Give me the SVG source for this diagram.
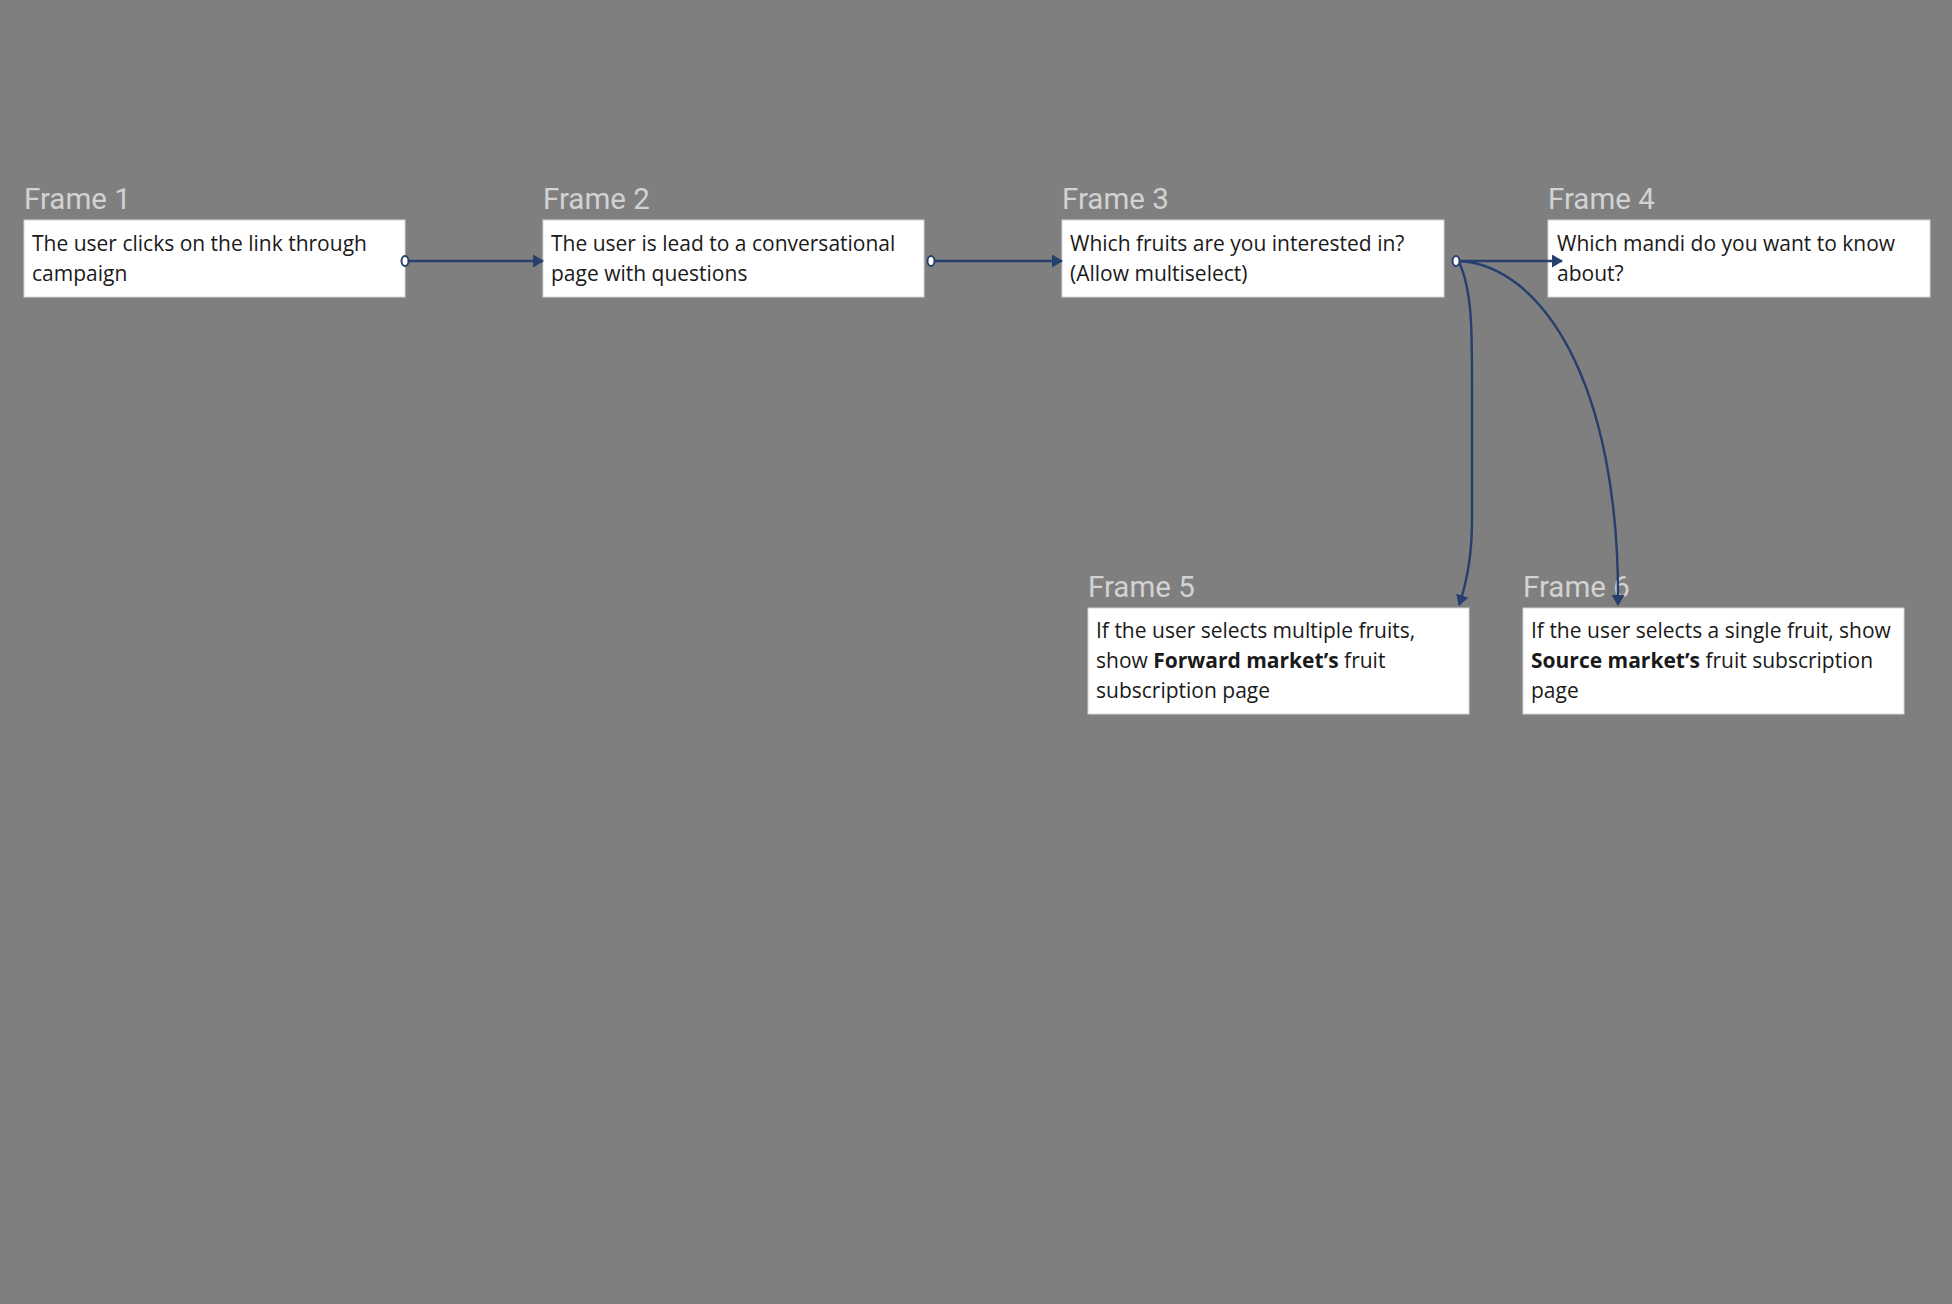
<svg xmlns="http://www.w3.org/2000/svg" width="1952" height="1304" viewBox="0 0 1952 1304">
<style>
.bg{fill:#7f7f7f}
.box{fill:#ffffff;stroke:#d6d6d6;stroke-width:1}
.lbl{font-family:Roboto,"Liberation Sans",sans-serif;font-size:29.5px;fill:#d2d2d2}
.txt{font-family:"Open Sans",Lato,"Liberation Sans",sans-serif;font-size:21px;fill:#1a1a1a}
.b{font-weight:bold}
.con{fill:none;stroke:#263f6e;stroke-width:2.4}
.dot{fill:#ffffff;stroke:#263f6e;stroke-width:2}
</style>
<defs>
<marker id="arr" viewBox="0 0 11 13" refX="10" refY="6.5" markerWidth="11" markerHeight="13" markerUnits="userSpaceOnUse" orient="auto">
<path d="M0,0 L11,6.5 L0,13 Z" fill="#263f6e"/>
</marker>
</defs>
<rect class="bg" x="0" y="0" width="1952" height="1304"/>

<g id="frame1">
<text class="lbl" x="24" y="209">Frame 1</text>
<rect class="box" x="24" y="220" width="381" height="77"/>
<text class="txt" x="32" y="251">The user clicks on the link through</text>
<text class="txt" x="32" y="281">campaign</text>
</g>
<g id="frame2">
<text class="lbl" x="543" y="209">Frame 2</text>
<rect class="box" x="543" y="220" width="381" height="77"/>
<text class="txt" x="551" y="251">The user is lead to a conversational</text>
<text class="txt" x="551" y="281">page with questions</text>
</g>
<g id="frame3">
<text class="lbl" x="1062" y="209">Frame 3</text>
<rect class="box" x="1062" y="220" width="382" height="77"/>
<text class="txt" x="1070" y="251">Which fruits are you interested in?</text>
<text class="txt" x="1070" y="281">(Allow multiselect)</text>
</g>
<g id="frame4">
<text class="lbl" x="1548" y="209">Frame 4</text>
<rect class="box" x="1548" y="220" width="382" height="77"/>
<text class="txt" x="1557" y="251">Which mandi do you want to know</text>
<text class="txt" x="1557" y="281">about?</text>
</g>
<g id="frame5">
<text class="lbl" x="1088" y="597">Frame 5</text>
<rect class="box" x="1088" y="608" width="381" height="106"/>
<text class="txt" x="1096" y="638">If the user selects multiple fruits,</text>
<text class="txt" x="1096" y="668">show <tspan class="b">Forward market’s</tspan> fruit</text>
<text class="txt" x="1096" y="698">subscription page</text>
</g>
<g id="frame6">
<text class="lbl" x="1523" y="597">Frame 6</text>
<rect class="box" x="1523" y="608" width="381" height="106"/>
<text class="txt" x="1531" y="638">If the user selects a single fruit, show</text>
<text class="txt" x="1531" y="668"><tspan class="b">Source market’s</tspan> fruit subscription</text>
<text class="txt" x="1531" y="698">page</text>
</g>

<g id="connectors">
<path class="con" d="M408,261 L543,261" marker-end="url(#arr)"/>
<path class="con" d="M934,261 L1062,261" marker-end="url(#arr)"/>
<path class="con" d="M1459,261 L1562,261" marker-end="url(#arr)"/>
<path class="con" d="M1459,262 C1472,290 1472,330 1472,380 L1472,520 C1472,560 1466,585 1459,605" marker-end="url(#arr)"/>
<path class="con" d="M1459,261 C1540,265 1620,380 1618,605" marker-end="url(#arr)"/>
<ellipse class="dot" cx="405" cy="261" rx="3.5" ry="5"/>
<ellipse class="dot" cx="931" cy="261" rx="3.5" ry="5"/>
<ellipse class="dot" cx="1456" cy="261" rx="3.5" ry="5"/>
</g>
</svg>
